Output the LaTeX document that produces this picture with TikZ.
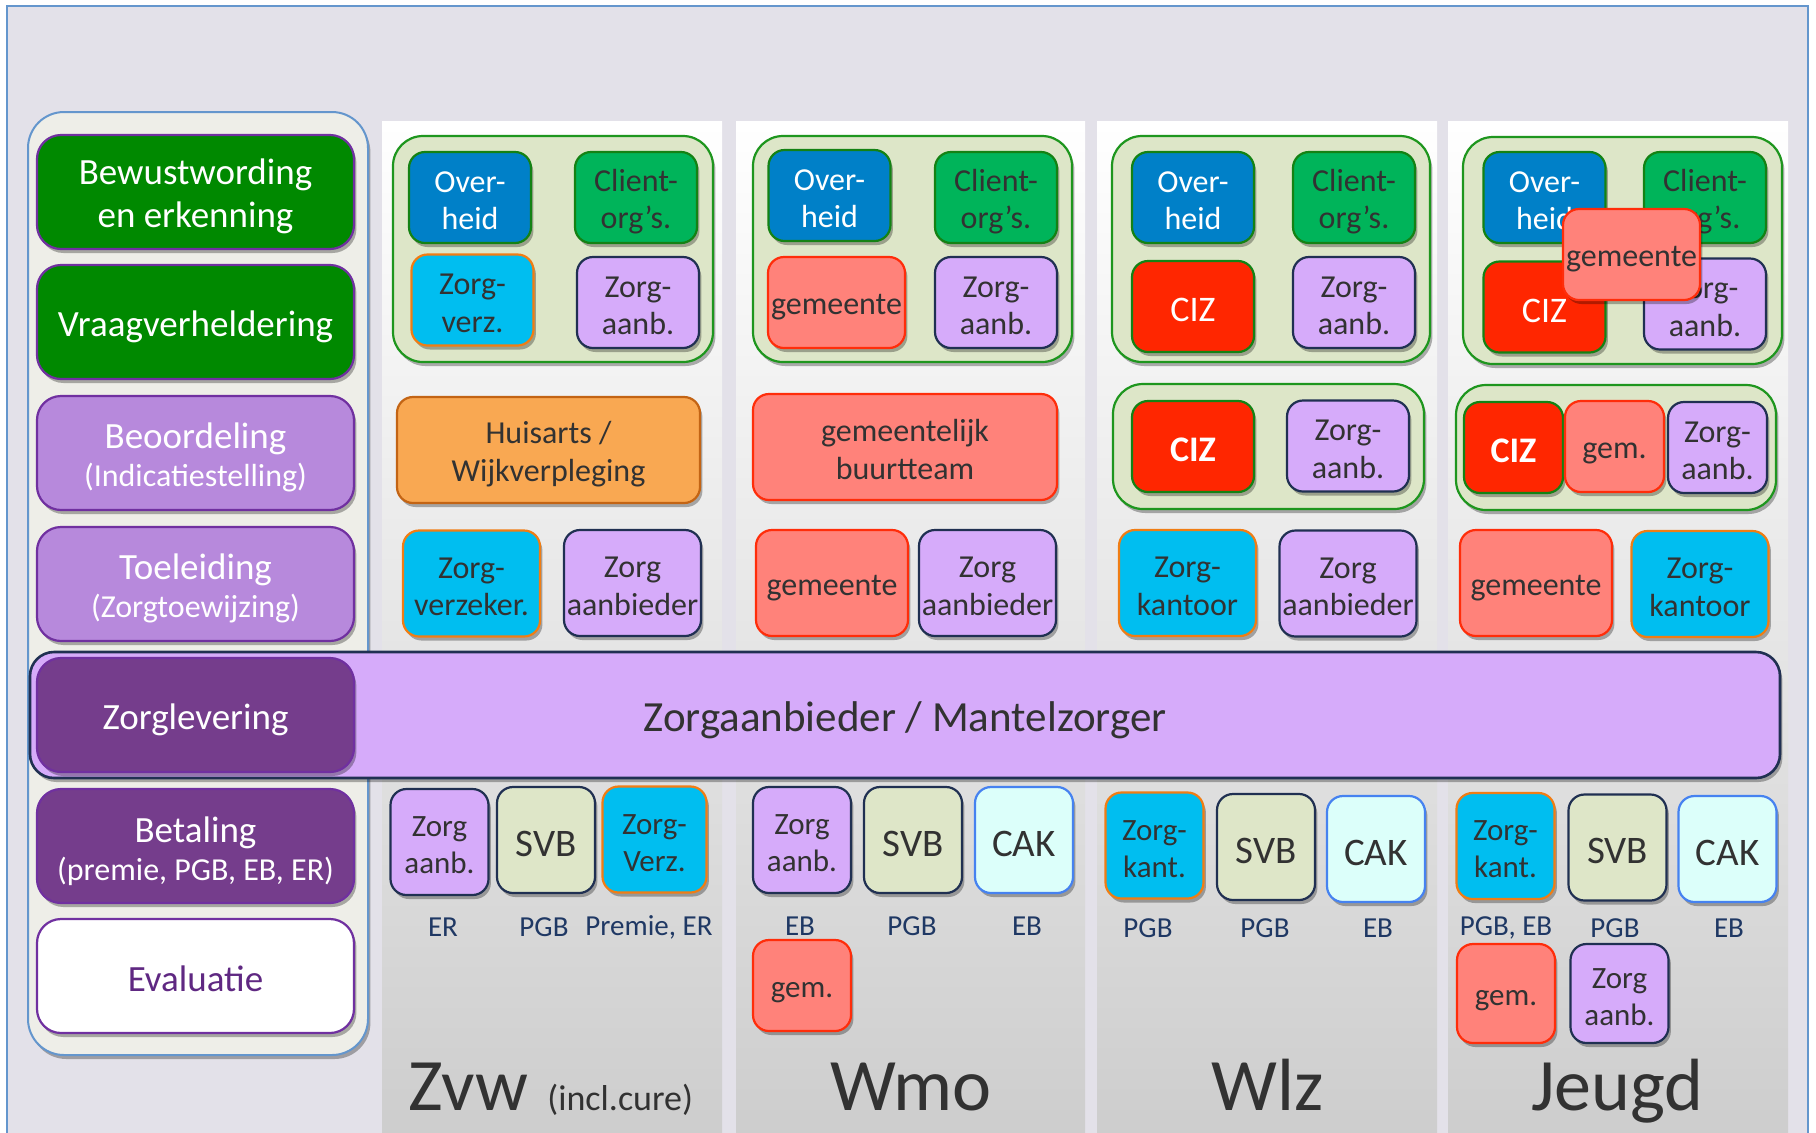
\documentclass[tikz,border=0pt]{standalone}
\usepackage{fontspec}
\setmainfont{Carlito}
\usetikzlibrary{shadows}

\definecolor{bgcol}{RGB}{227,225,233}
\definecolor{frameblue}{RGB}{100,150,205}
\definecolor{panel}{RGB}{238,238,232}
\definecolor{phgreen}{RGB}{0,137,0}
\definecolor{phpurple}{RGB}{183,137,220}
\definecolor{phdark}{RGB}{117,61,140}
\definecolor{phborder}{RGB}{112,48,160}
\definecolor{evaltxt}{RGB}{95,40,130}
\definecolor{barfill}{RGB}{214,171,250}
\definecolor{navy}{RGB}{32,48,82}
\definecolor{colgray}{RGB}{204,204,204}
\definecolor{grpfill}{RGB}{221,230,200}
\definecolor{grpline}{RGB}{30,150,30}
\definecolor{ovfill}{RGB}{0,128,200}
\definecolor{boxgreen}{RGB}{20,130,20}
\definecolor{clifill}{RGB}{0,180,90}
\definecolor{zvfill}{RGB}{0,190,240}
\definecolor{zvline}{RGB}{240,125,20}
\definecolor{hafill}{RGB}{249,168,82}
\definecolor{haline}{RGB}{195,100,20}
\definecolor{gemfill}{RGB}{255,130,122}
\definecolor{gemline}{RGB}{255,45,10}
\definecolor{cizfill}{RGB}{255,38,0}
\definecolor{svbfill}{RGB}{222,230,200}
\definecolor{cakfill}{RGB}{220,255,250}
\definecolor{cakline}{RGB}{70,130,240}
\definecolor{txt}{RGB}{50,50,50}
\definecolor{lblcol}{RGB}{31,56,100}

\newcommand{\klein}{\fontsize{16}{18}\selectfont}

\begin{document}
\begin{tikzpicture}[x=0.5pt,y=-0.5pt,
  box/.style={draw,line width=1.1pt,rounded corners=8pt,align=center,inner sep=0pt,
    text=txt,font=\fontsize{16}{18.75}\selectfont,
    execute at begin node={\rule[-0.11em]{0pt}{1.06em}},
    drop shadow={shadow xshift=1.2pt,shadow yshift=-2pt,opacity=.3,fill=black}},
  twee/.style={execute at begin node={\rule[-0.11em]{0pt}{\dimexpr1.06em+\baselineskip\relax}}},
  phase/.style={box,draw=phborder,minimum width=158.5pt,minimum height=57pt,
    rounded corners=12pt,text=white,font=\fontsize{18.5}{21.5}\selectfont},
  group/.style={box,fill=grpfill,draw=grpline,rounded corners=15pt},
  sqbox/.style={box,minimum width=61pt,minimum height=45.5pt},
  gembox/.style={box,minimum width=68.5pt,minimum height=45.5pt},
  narbox/.style={box,minimum width=49.5pt,minimum height=45.5pt},
  tlbox/.style={box,minimum width=68.5pt,minimum height=53pt},
  tlwide/.style={box,minimum width=76pt,minimum height=53pt},
  widebox/.style={box,minimum width=151.5pt,minimum height=53pt},
  paybox/.style={box,minimum width=49pt,minimum height=53pt,font=\fontsize{15.5}{18.5}\selectfont},
  overheid/.style={fill=ovfill,draw=boxgreen,text=white},
  client/.style={fill=clifill,draw=boxgreen},
  verz/.style={fill=zvfill,draw=zvline},
  aanb/.style={fill=barfill,draw=navy},
  huisarts/.style={fill=hafill,draw=haline},
  gem/.style={fill=gemfill,draw=gemline},
  ciz/.style={fill=cizfill,draw=boxgreen,text=white,font=\fontsize{18}{20}\selectfont},
  svb/.style={fill=svbfill,draw=navy,font=\fontsize{19.5}{22}\selectfont},
  cak/.style={fill=cakfill,draw=cakline,font=\fontsize{19.5}{22}\selectfont},
  bedrag/.style={inner sep=0pt,text=lblcol,font=\fontsize{14.5}{16}\selectfont},
  titel/.style={inner sep=0pt,text=txt,font=\fontsize{37}{40}\selectfont}]

\useasboundingbox (0,0) rectangle (1816,1132);
\clip (0,0) rectangle (1816,1132);
\draw[frameblue,fill=bgcol,line width=1pt] (7,6) rectangle (1808,1160);

% fasen
\draw[frameblue,fill=panel,line width=1pt,rounded corners=18pt,
  drop shadow={shadow xshift=1.2pt,shadow yshift=-2pt,opacity=.3,fill=black}] (28,112) rectangle (368,1055);

% kolommen
\foreach \xa/\xb in {382/722,736/1085,1097/1437,1448/1788}
  \shade[top color=white,bottom color=colgray] (\xa,121) rectangle (\xb,1160);

\node[box,fill=barfill,draw=navy,line width=1.3pt,rounded corners=12pt,
  minimum width=875pt,minimum height=63pt,font=\fontsize{21.5}{24}\selectfont] (bar) at (905,715) {Zorgaanbieder / Mantelzorger};

\node[phase,twee,fill=phgreen] (bewust) at (195.5,192) {Bewustwording\\en erkenning};
\node[phase,fill=phgreen] (vraag) at (195.5,322) {Vraagverheldering};
\node[phase,fill=phpurple,font=\fontsize{18.5}{19}\selectfont,twee] (beoord) at (195.5,453) {Beoordeling\\{\klein (Indicatiestelling)}};
\node[phase,fill=phpurple,font=\fontsize{18.5}{19}\selectfont,twee] (toeleid) at (195.5,584) {Toeleiding\\{\klein (Zorgtoewijzing)}};
\node[phase,fill=phdark] (levering) at (195.5,715) {Zorglevering};
\node[phase,fill=phdark,font=\fontsize{18.5}{19}\selectfont,twee] (betaling) at (195.5,846) {Betaling\\{\klein (premie, PGB, EB, ER)}};
\node[phase,fill=white,text=evaltxt] (evaluatie) at (195.5,976) {Evaluatie};

% Zvw
\node[group,minimum width=160pt,minimum height=113pt] (zvw-grp) at (553,249) {};
\node[sqbox,overheid,twee] (zvw-ov) at (470,197.5) {Over-\\heid};
\node[sqbox,client,twee] (zvw-cl) at (636,197.5) {Client-\\org’s.};
\node[sqbox,verz,twee] (zvw-zv) at (472.5,300) {Zorg-\\verz.};
\node[sqbox,aanb,twee] (zvw-za) at (638,302.5) {Zorg-\\aanb.};
\node[widebox,huisarts,twee] (zvw-ha) at (548.5,450) {Huisarts /\\Wijkverpleging};
\node[tlbox,verz,twee] (zvw-tv) at (471.5,583.5) {Zorg-\\verzeker.};
\node[tlbox,aanb,twee] (zvw-ta) at (632.5,583) {Zorg\\aanbieder};
\node[paybox,aanb,twee] (zvw-pa) at (439.5,842) {Zorg\\aanb.};
\node[paybox,svb] (zvw-ps) at (546,840) {SVB};
\node[paybox,verz,twee,minimum width=52pt] (zvw-pv) at (654.5,839.5) {Zorg-\\Verz.};
\node[bedrag] (zvw-l1) at (443,927) {ER};
\node[bedrag] (zvw-l2) at (544,927) {PGB};
\node[bedrag] (zvw-l3) at (649,927) {Premie, ER};
\node[titel,anchor=base west] (zvw-t) at (408,1110) {Zvw};
\node[titel,anchor=base west,font=\fontsize{18}{20}\selectfont] (zvw-t2) at (547,1110) {(incl.cure)};

% Wmo
\node[group,minimum width=159.5pt,minimum height=113pt] (wmo-grp) at (912.5,249) {};
\node[sqbox,overheid,twee] (wmo-ov) at (829.5,195.5) {Over-\\heid};
\node[sqbox,client,twee] (wmo-cl) at (996,197.5) {Client-\\org’s.};
\node[gembox,gem] (wmo-gm) at (836.5,302.5) {gemeente};
\node[sqbox,aanb,twee] (wmo-za) at (996,302.5) {Zorg-\\aanb.};
\node[widebox,gem,twee,minimum width=152pt] (wmo-bt) at (905,447) {gemeentelijk\\buurtteam};
\node[tlwide,gem] (wmo-tg) at (832,583) {gemeente};
\node[tlbox,aanb,twee] (wmo-ta) at (987.5,583) {Zorg\\aanbieder};
\node[paybox,aanb,twee] (wmo-pa) at (802,840) {Zorg\\aanb.};
\node[paybox,svb] (wmo-ps) at (913,840) {SVB};
\node[paybox,cak] (wmo-pc) at (1024,840) {CAK};
\node[bedrag] (wmo-l1) at (800,926) {EB};
\node[bedrag] (wmo-l2) at (912,926) {PGB};
\node[bedrag] (wmo-l3) at (1027,926) {EB};
\node[paybox,gem,minimum height=45.5pt] (wmo-pg) at (802,985.5) {gem.};
\node[titel,anchor=base] (wmo-t) at (911,1110) {Wmo};

% Wlz
\node[group,minimum width=159pt,minimum height=113pt] (wlz-grp) at (1271,249) {};
\node[sqbox,overheid,twee] (wlz-ov) at (1193,197.5) {Over-\\heid};
\node[sqbox,client,twee] (wlz-cl) at (1354,197.5) {Client-\\org’s.};
\node[sqbox,ciz] (wlz-ciz) at (1193,306.5) {CIZ};
\node[sqbox,aanb,twee] (wlz-za) at (1354,302.5) {Zorg-\\aanb.};
\node[group,minimum width=155.5pt,minimum height=62.5pt] (wlz-grp2) at (1268.5,446.5) {};
\node[sqbox,ciz,font=\bfseries\fontsize{18}{20}\selectfont] (wlz-ciz2) at (1193,446.5) {CIZ};
\node[sqbox,aanb,twee] (wlz-za2) at (1348,446) {Zorg-\\aanb.};
\node[tlbox,verz,twee] (wlz-tk) at (1187.5,583) {Zorg-\\kantoor};
\node[tlbox,aanb,twee] (wlz-ta) at (1348,583.5) {Zorg\\aanbieder};
\node[paybox,verz,twee] (wlz-pk) at (1154.5,845.5) {Zorg-\\kant.};
\node[paybox,svb] (wlz-ps) at (1266,847) {SVB};
\node[paybox,cak] (wlz-pc) at (1376,849) {CAK};
\node[bedrag] (wlz-l1) at (1148,928) {PGB};
\node[bedrag] (wlz-l2) at (1265,928) {PGB};
\node[bedrag] (wlz-l3) at (1378,928) {EB};
\node[titel,anchor=base] (wlz-t) at (1268,1110) {Wlz};

% Jeugd
\node[group,minimum width=159.5pt,minimum height=113.5pt] (jgd-grp) at (1622.5,250.5) {};
\node[sqbox,overheid,twee] (jgd-ov) at (1544.5,197.5) {Over-\\heid};
\node[sqbox,client,twee] (jgd-cl) at (1705,197.5) {Client-\\org’s.};
\node[sqbox,ciz] (jgd-ciz) at (1544.5,307) {CIZ};
\node[sqbox,aanb,twee] (jgd-za) at (1705,304) {Zorg-\\aanb.};
\node[gembox,gem] (jgd-gm) at (1631.5,254.5) {gemeente};
\node[group,minimum width=160pt,minimum height=62.5pt] (jgd-grp2) at (1616,447.5) {};
\node[narbox,ciz,font=\bfseries\fontsize{18}{20}\selectfont] (jgd-ciz2) at (1513.5,447.5) {CIZ};
\node[narbox,gem] (jgd-gm2) at (1614.5,446.5) {gem.};
\node[narbox,aanb,twee] (jgd-za2) at (1717.5,447.5) {Zorg-\\aanb.};
\node[tlwide,gem] (jgd-tg) at (1536,583) {gemeente};
\node[tlbox,verz,twee] (jgd-tk) at (1700,584) {Zorg-\\kantoor};
\node[paybox,verz,twee] (jgd-pk) at (1505.5,846) {Zorg-\\kant.};
\node[paybox,svb] (jgd-ps) at (1617.5,847.5) {SVB};
\node[paybox,cak] (jgd-pc) at (1727.5,849) {CAK};
\node[bedrag] (jgd-l1) at (1506,928) {PGB, EB};
\node[bedrag] (jgd-l2) at (1615,928) {PGB};
\node[bedrag] (jgd-l3) at (1729,928) {EB};
\node[paybox,gem,minimum height=49.5pt] (jgd-pg) at (1506,993.5) {gem.};
\node[paybox,aanb,twee,minimum height=49.5pt] (jgd-pa) at (1619.5,993.5) {Zorg\\aanb.};
\node[titel,anchor=base] (jgd-t) at (1617.5,1110) {Jeugd};
\end{tikzpicture}
\end{document}
